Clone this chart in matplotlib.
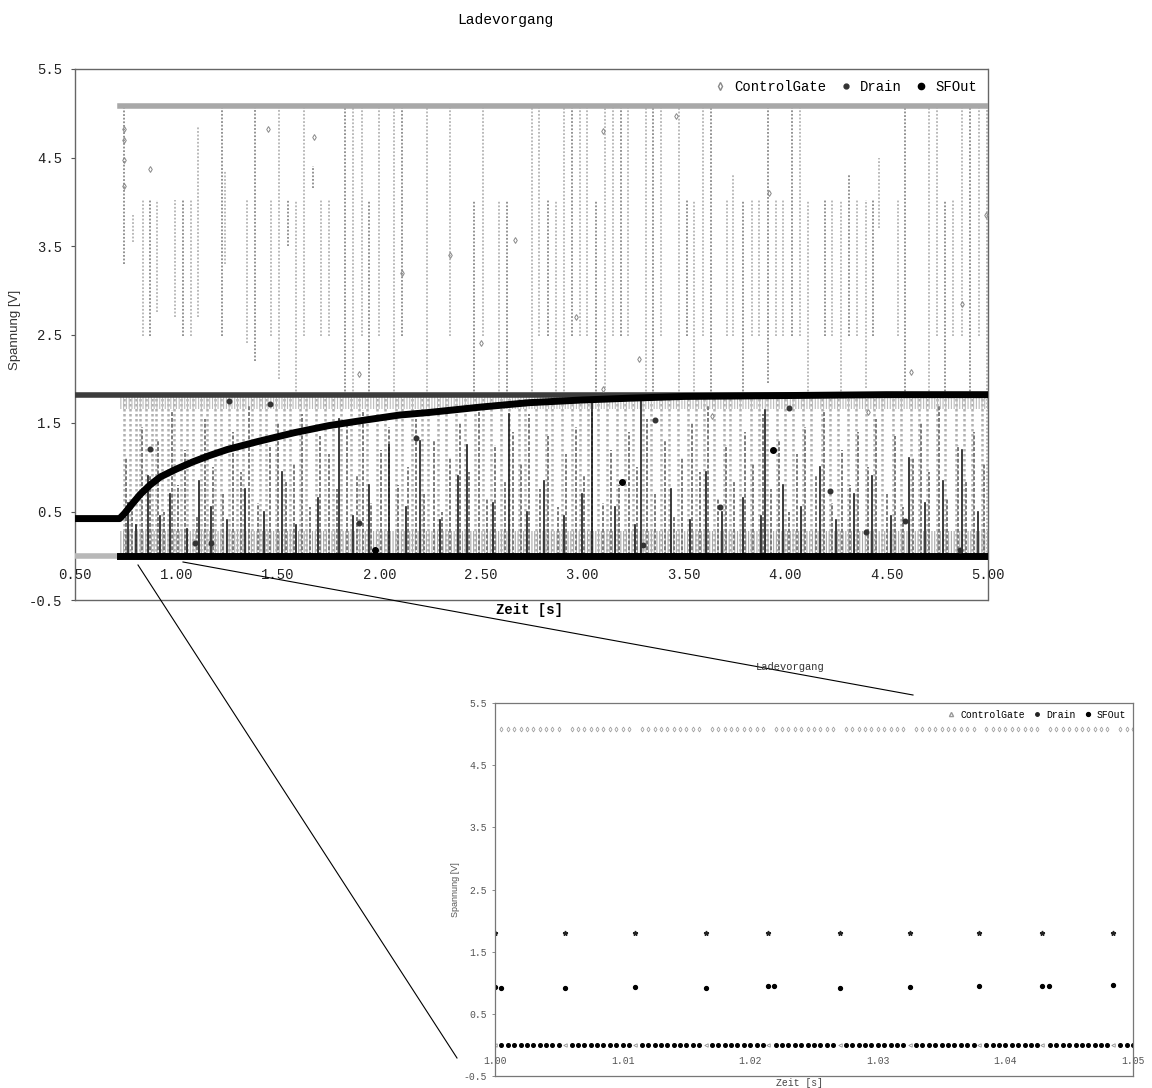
import matplotlib
matplotlib.use("Agg")
import matplotlib.pyplot as plt
from matplotlib.lines import Line2D

# ---------------- data (main view, seconds / volts) ----------------
x_ticks = [0.50, 1.00, 1.50, 2.00, 2.50, 3.00, 3.50, 4.00, 4.50, 5.00]
x_tick_labels = ["0.50", "1.00", "1.50", "2.00", "2.50", "3.00", "3.50", "4.00", "4.50", "5.00"]
y_ticks = [5.5, 4.5, 3.5, 2.5, 1.5, 0.5, -0.5]
y_tick_labels = ["5.5", "4.5", "3.5", "2.5", "1.5", "0.5", "-0.5"]

# SFOut charging curve
sf_t = [0.50, 0.72, 0.745, 0.78, 0.82, 0.87, 0.92, 1.00, 1.08, 1.16, 1.25, 1.40, 1.58, 1.75,
        1.92, 2.10, 2.25, 2.50, 2.74, 3.00, 3.23, 3.50, 4.00, 4.50, 5.00]
sf_v = [0.42, 0.42, 0.48, 0.58, 0.69, 0.80, 0.89, 0.98, 1.06, 1.13, 1.20, 1.29, 1.39, 1.47,
        1.53, 1.59, 1.62, 1.68, 1.73, 1.76, 1.78, 1.80, 1.81, 1.82, 1.82]

# steady levels
cg_high = 5.08          # ControlGate high level
mid_level = 1.82        # Drain / SFOut high level
t_start = 0.72          # switching begins
t_begin, t_end = 0.50, 5.00

# ControlGate transitions in upper region: time, low, high
cg_up_t = [0.741, 0.786, 0.835, 0.870, 0.904, 0.993, 1.032, 1.072, 1.106, 1.224, 1.239, 1.348, 1.387,
           1.466, 1.505, 1.550, 1.589, 1.629, 1.673, 1.712, 1.752, 1.831, 1.870, 1.914, 1.949, 1.998,
           2.072, 2.112, 2.235, 2.348, 2.467, 2.511, 2.590, 2.629, 2.752, 2.787, 2.831, 2.871, 2.910,
           2.949, 2.989, 3.023, 3.068, 3.112, 3.152, 3.191, 3.225, 3.314, 3.349, 3.388, 3.477, 3.516,
           3.551, 3.595, 3.634, 3.713, 3.743, 3.792, 3.837, 3.871, 3.915, 3.955, 3.989, 4.034, 4.073,
           4.113, 4.196, 4.231, 4.275, 4.315, 4.354, 4.398, 4.433, 4.462, 4.556, 4.591, 4.709, 4.748,
           4.788, 4.827, 4.872, 4.911, 4.955, 4.995]
cg_up_lo = [3.30, 3.55, 2.48, 2.48, 2.75, 2.70, 2.48, 2.48, 2.70, 2.48, 3.30, 2.40, 2.20,
            2.48, 2.00, 3.50, 1.82, 2.48, 4.15, 2.48, 2.48, 1.82, 1.82, 2.48, 1.82, 2.48,
            1.82, 2.48, 1.82, 2.48, 1.82, 2.48, 1.82, 1.82, 1.82, 2.48, 2.48, 1.82, 1.82,
            2.48, 2.48, 2.48, 1.82, 1.90, 2.48, 2.48, 2.48, 1.82, 1.82, 2.48, 1.82, 2.48,
            1.82, 2.48, 1.82, 2.48, 2.48, 1.82, 2.48, 2.48, 1.95, 2.48, 2.48, 2.48, 2.48,
            1.82, 2.48, 2.48, 1.82, 2.48, 2.48, 1.90, 2.48, 3.70, 2.48, 1.82, 1.82, 2.48,
            1.82, 2.48, 2.48, 1.82, 2.48, 0.00]
cg_up_hi = [5.08, 3.85, 4.02, 4.02, 4.02, 4.02, 4.02, 4.02, 4.85, 5.08, 4.35, 4.02, 5.08,
            4.02, 5.08, 4.02, 4.02, 5.08, 4.40, 4.02, 4.02, 5.08, 5.08, 5.08, 4.02, 5.08,
            5.08, 5.08, 5.08, 5.08, 4.02, 5.08, 4.02, 4.02, 5.08, 5.08, 4.02, 4.02, 5.08,
            5.08, 5.08, 5.08, 4.02, 5.08, 5.08, 5.08, 5.08, 5.08, 5.08, 5.08, 5.08, 4.02,
            4.02, 5.08, 5.08, 4.02, 4.30, 4.02, 4.02, 4.02, 5.08, 4.02, 4.02, 5.08, 5.08,
            4.02, 4.02, 4.02, 4.02, 4.30, 4.02, 4.02, 4.02, 4.50, 4.02, 5.08, 5.08, 5.08,
            4.02, 4.02, 5.08, 5.08, 5.08, 5.08]

# ControlGate transitions in lower region (0 -> mid level)
cg_low_t = [0.74, 0.77, 0.80, 0.82, 0.85, 0.88, 0.90, 0.93, 0.96, 0.99, 1.02, 1.05, 1.08, 1.12, 1.15,
            1.19, 1.22, 1.26, 1.30, 1.33, 1.37, 1.41, 1.44, 1.49, 1.53, 1.56, 1.61, 1.64, 1.69, 1.73,
            1.77, 1.81, 1.86, 1.90, 1.94, 1.99, 2.03, 2.08, 2.11, 2.16, 2.21, 2.24, 2.29, 2.33, 2.38,
            2.42, 2.47, 2.51, 2.55, 2.60, 2.64, 2.69, 2.72, 2.77, 2.82, 2.85, 2.90, 2.95, 2.99, 3.03,
            3.08, 3.12, 3.17, 3.21, 3.25, 3.30, 3.34, 3.39, 3.43, 3.47, 3.52, 3.56, 3.60, 3.65, 3.70,
            3.73, 3.78, 3.83, 3.87, 3.91, 3.96, 4.00, 4.04, 4.09, 4.13, 4.18, 4.22, 4.26, 4.31, 4.35,
            4.40, 4.44, 4.48, 4.53, 4.57, 4.62, 4.66, 4.70, 4.75, 4.79, 4.84, 4.88, 4.92, 4.97]

# Drain pulses (0 -> height)
drain_t = [0.75, 0.78, 0.83, 0.87, 0.91, 0.94, 0.98, 1.01, 1.04, 1.10, 1.14, 1.18, 1.23, 1.28, 1.32,
           1.36, 1.40, 1.46, 1.50, 1.54, 1.58, 1.62, 1.66, 1.71, 1.75, 1.79, 1.84, 1.89, 1.92, 1.96,
           2.01, 2.05, 2.09, 2.14, 2.18, 2.22, 2.27, 2.31, 2.35, 2.40, 2.44, 2.49, 2.53, 2.57, 2.62,
           2.66, 2.70, 2.74, 2.79, 2.83, 2.88, 2.92, 2.97, 3.01, 3.05, 3.10, 3.14, 3.18, 3.23, 3.27,
           3.32, 3.36, 3.41, 3.45, 3.49, 3.54, 3.58, 3.62, 3.67, 3.71, 3.75, 3.80, 3.84, 3.89, 3.93,
           3.97, 4.02, 4.06, 4.10, 4.15, 4.19, 4.23, 4.28, 4.32, 4.36, 4.41, 4.45, 4.50, 4.54, 4.58,
           4.63, 4.67, 4.71, 4.76, 4.80, 4.85, 4.89, 4.93, 4.98]
drain_h = [1.10, 0.65, 1.45, 0.90, 1.30, 0.50, 1.65, 0.80, 1.20, 0.45, 1.55, 1.00, 0.70, 1.40, 0.95,
           1.70, 0.60, 1.25, 1.50, 0.85, 1.05, 1.60, 0.55, 1.35, 1.15, 0.75, 1.50, 0.90, 1.65, 0.60,
           1.20, 1.45, 0.80, 1.00, 1.55, 0.70, 1.30, 0.50, 1.10, 1.50, 0.95, 1.70, 0.65, 1.25, 0.85,
           1.40, 1.05, 1.60, 0.75, 1.35, 0.55, 1.15, 1.45, 0.90, 1.65, 0.60, 1.20, 0.80, 1.40, 1.00,
           1.55, 0.70, 1.30, 0.45, 1.10, 1.50, 0.95, 1.70, 0.65, 1.25, 0.85, 1.40, 1.05, 1.60, 0.75,
           1.30, 0.50, 1.15, 1.45, 0.90, 1.65, 0.60, 1.20, 0.80, 1.40, 1.00, 1.55, 0.70, 1.35, 0.55,
           1.10, 1.50, 0.95, 1.70, 0.65, 1.25, 0.85, 1.40, 1.05]

# SFOut spikes (0 -> height)
sfs_t = [0.76, 0.80, 0.86, 0.92, 0.97, 1.05, 1.11, 1.17, 1.25, 1.34, 1.43, 1.52, 1.59, 1.70, 1.80,
         1.87, 1.95, 2.05, 2.13, 2.20, 2.30, 2.39, 2.43, 2.56, 2.64, 2.73, 2.81, 2.91, 3.00, 3.05,
         3.16, 3.26, 3.29, 3.44, 3.53, 3.61, 3.69, 3.79, 3.88, 3.90, 3.99, 4.08, 4.17, 4.25, 4.34,
         4.43, 4.52, 4.61, 4.69, 4.78, 4.87, 4.95]
sfs_h = [0.60, 0.35, 0.90, 0.45, 0.70, 0.30, 0.85, 0.55, 0.40, 0.75, 0.50, 0.95, 0.35, 0.65, 1.55,
         0.45, 0.80, 1.25, 0.55, 1.30, 0.40, 0.90, 1.25, 0.60, 1.60, 0.50, 0.85, 0.45, 0.70, 1.82,
         0.55, 0.35, 1.80, 0.75, 0.40, 0.95, 0.50, 0.65, 0.45, 1.65, 0.80, 0.55, 1.00, 0.40, 0.70,
         0.90, 0.45, 1.10, 0.60, 0.85, 1.20, 0.50]

# isolated samples
cg_pts_t = [0.74, 0.74, 0.74, 0.74, 0.87, 1.45, 1.68, 2.11, 2.35, 2.67, 1.90, 2.50, 2.97, 3.10,
            3.28, 3.46, 3.92, 4.62, 4.87, 4.99, 3.10, 3.64, 4.41]
cg_pts_v = [4.82, 4.70, 4.47, 4.18, 4.37, 4.82, 4.73, 3.20, 3.40, 3.57, 2.05, 2.40, 2.70, 4.80,
            2.22, 4.97, 4.10, 2.08, 2.85, 3.85, 1.88, 1.58, 1.62]
drain_pts_t = [0.87, 1.26, 1.46, 2.18, 3.36, 3.68, 4.22, 4.40, 4.59, 1.09, 1.17, 3.30, 4.86, 4.02, 1.90]
drain_pts_v = [1.21, 1.75, 1.71, 1.33, 1.53, 0.55, 0.73, 0.27, 0.39, 0.14, 0.14, 0.12, 0.07, 1.67, 0.37]
sf_pts_t = [3.195, 3.94, 1.98]
sf_pts_v = [0.83, 1.20, 0.07]

# ---------------- data (zoomed view 1.00 .. 1.05 s) ----------------
z_x_ticks = [1.00, 1.01, 1.02, 1.03, 1.04, 1.05]
z_x_labels = ["1.00", "1.01", "1.02", "1.03", "1.04", "1.05"]
z_samples = [1.0000, 1.0005, 1.0010, 1.0015, 1.0020, 1.0025, 1.0030, 1.0035, 1.0040, 1.0045,
             1.0050, 1.0055, 1.0060, 1.0065, 1.0070, 1.0075, 1.0080, 1.0085, 1.0090, 1.0095,
             1.0100, 1.0105, 1.0110, 1.0115, 1.0120, 1.0125, 1.0130, 1.0135, 1.0140, 1.0145,
             1.0150, 1.0155, 1.0160, 1.0165, 1.0170, 1.0175, 1.0180, 1.0185, 1.0190, 1.0195,
             1.0200, 1.0205, 1.0210, 1.0214, 1.0220, 1.0225, 1.0230, 1.0235, 1.0240, 1.0245,
             1.0250, 1.0255, 1.0260, 1.0265, 1.0270, 1.0275, 1.0280, 1.0285, 1.0290, 1.0295,
             1.0300, 1.0305, 1.0310, 1.0315, 1.0320, 1.0325, 1.0330, 1.0335, 1.0340, 1.0345,
             1.0350, 1.0355, 1.0360, 1.0365, 1.0370, 1.0375, 1.0379, 1.0385, 1.0390, 1.0395,
             1.0400, 1.0405, 1.0410, 1.0415, 1.0420, 1.0425, 1.0429, 1.0435, 1.0440, 1.0445,
             1.0450, 1.0455, 1.0460, 1.0465, 1.0470, 1.0475, 1.0480, 1.0484, 1.0490, 1.0495, 1.0500]
z_pulses = [1.0000, 1.0055, 1.0110, 1.0165, 1.0214, 1.0270, 1.0325, 1.0379, 1.0429, 1.0484]
z_drain_v = 1.80
z_sf_t = [1.0000, 1.0005, 1.0055, 1.0110, 1.0165, 1.0214, 1.0219, 1.0270, 1.0325, 1.0379,
          1.0429, 1.0434, 1.0484]
z_sf_v = [0.93, 0.92, 0.92, 0.93, 0.92, 0.94, 0.94, 0.92, 0.93, 0.95, 0.95, 0.95, 0.96]

# ---------------- drawing ----------------
W, H = 1152, 1088
MONO = "Liberation Mono"
SANS = "Liberation Sans"
plt.rcParams["hatch.linewidth"] = 0.8
fig = plt.figure(figsize=(W / 100, H / 100), dpi=100)


def rect(l, t, r, b):
    return [l / W, 1 - b / H, (r - l) / W, (b - t) / H]


ax = fig.add_axes(rect(75, 69, 988, 600))
ax.set_xlim(0.5, 5.0)
ax.set_ylim(-0.5, 5.5)

dot = (0, (1, 1))
# upper ControlGate transitions
for i, (t, lo, hi) in enumerate(zip(cg_up_t, cg_up_lo, cg_up_hi)):
    c = "#8a8a8a" if i % 3 == 0 else "#b4b4b4"
    ax.plot([t, t], [lo, hi], color=c, lw=1.3, ls=dot, zorder=2)
# lower region
for t in cg_low_t:
    ax.plot([t, t], [0, mid_level], color="#b0b0b0", lw=1.8, ls=dot, zorder=2)
for t, h in zip(drain_t, drain_h):
    ax.plot([t, t], [0, h], color="#7a7a7a", lw=1.4, ls=(0, (2, 1)), zorder=3)
for t, h in zip(sfs_t, sfs_h):
    ax.plot([t, t], [0, h], color="#1a1a1a", lw=1.2, zorder=4)
# fences of dense short transitions
ax.fill_between([t_start, t_end], 0, 0.28, facecolor="none", edgecolor="#aaaaaa",
                hatch="||||||", lw=0, zorder=2)
ax.fill_between([t_start, t_end], 1.66, mid_level, facecolor="none", edgecolor="#bbbbbb",
                hatch="||||||", lw=0, zorder=2)

# steady levels
ax.plot([t_start, t_end], [cg_high, cg_high], color="#a8a8a8", lw=4, zorder=5)
ax.plot([t_begin, t_end], [mid_level, mid_level], color="#3c3c3c", lw=4, zorder=5)
ax.plot([t_begin, t_start], [0, 0], color="#b8b8b8", lw=4, zorder=5)
ax.plot([t_start, t_end], [0, 0], color="black", lw=5, zorder=6)
ax.plot(sf_t, sf_v, color="black", lw=5, solid_capstyle="round", zorder=7)

ax.plot(cg_pts_t, cg_pts_v, ls="none", marker="d", ms=3, mfc="none", mec="#888888", mew=0.7, zorder=6)
ax.plot(drain_pts_t, drain_pts_v, ls="none", marker="o", ms=3.3, color="#333333", zorder=8)
ax.plot(sf_pts_t, sf_pts_v, ls="none", marker="o", ms=4, color="black", zorder=8)

for s in ax.spines.values():
    s.set_linestyle(dot)
    s.set_color("#666666")
    s.set_linewidth(1)
ax.set_yticks(y_ticks)
ax.set_yticklabels(y_tick_labels, family=MONO, fontsize=10, color="#222222")
ax.tick_params(axis="y", length=3, width=0.8, color="#555555", pad=6)
ax.set_xticks([])
for t, lab in zip(x_ticks, x_tick_labels):
    ax.text(t, -0.22, lab, ha="center", va="center", family=MONO, fontsize=10, color="#222222", zorder=9)

handles = [Line2D([], [], ls="none", marker="d", ms=4, mfc="none", mec="#888888"),
           Line2D([], [], ls="none", marker="o", ms=3.5, color="#333333"),
           Line2D([], [], ls="none", marker="o", ms=4.5, color="black")]
leg = ax.legend(handles, ["ControlGate", "Drain", "SFOut"], loc="upper right", ncol=3,
                frameon=False, prop={"family": MONO, "size": 10}, handlelength=0.8,
                handletextpad=0.6, columnspacing=1.0, borderaxespad=0.4)
leg.set_zorder(20)

fig.text(505 / W, 1 - 20 / H, "Ladevorgang", ha="center", va="center", family=MONO, fontsize=10.5)
fig.text(15 / W, 1 - 330 / H, "Spannung [V]", ha="center", va="center", rotation=90,
         family=SANS, fontsize=9.5, color="#333333")
fig.text(530 / W, 1 - 610 / H, "Zeit [s]", ha="center", va="center", family=MONO,
         fontsize=10, fontweight="bold")

# ---------------- zoomed view ----------------
axi = fig.add_axes(rect(495, 703, 1133, 1076))
axi.set_xlim(1.0, 1.05)
axi.set_ylim(-0.5, 5.5)
pulse_set = set(z_pulses)
cg_top_t = [t for t in z_samples if t not in pulse_set]
axi.plot(cg_top_t, [cg_high] * len(cg_top_t), ls="none", marker="d", ms=2.5, mfc="none",
         mec="#a0a0a0", mew=0.6)
axi.plot(cg_top_t, [0] * len(cg_top_t), ls="none", marker="o", ms=2.6, color="black")
axi.plot(z_pulses, [0] * len(z_pulses), ls="none", marker="<", ms=2.5, mfc="none", mec="#909090", mew=0.6)
axi.plot(z_pulses, [z_drain_v] * len(z_pulses), ls="none", marker="*", ms=3.5, color="#222222")
axi.plot(z_sf_t, z_sf_v, ls="none", marker="o", ms=2.8, color="black")
for s in axi.spines.values():
    s.set_linestyle(dot)
    s.set_color("#777777")
    s.set_linewidth(0.9)
axi.set_yticks(y_ticks)
axi.set_yticklabels(y_tick_labels, family=MONO, fontsize=7, color="#555555")
axi.tick_params(axis="y", length=2, width=0.6, color="#777777", pad=4)
axi.set_xticks([])
for t, lab in zip(z_x_ticks, z_x_labels):
    axi.text(t, -0.26, lab, ha="center", va="center", family=MONO, fontsize=7, color="#555555")
hz = [Line2D([], [], ls="none", marker="^", ms=3, mfc="none", mec="#999999"),
      Line2D([], [], ls="none", marker="o", ms=2.5, color="#222222"),
      Line2D([], [], ls="none", marker="o", ms=2.8, color="black")]
axi.legend(hz, ["ControlGate", "Drain", "SFOut"], loc="upper right", ncol=3, frameon=False,
           prop={"family": MONO, "size": 7}, handlelength=0.8, handletextpad=0.5,
           columnspacing=0.9, borderaxespad=0.3)
fig.text(790 / W, 1 - 667 / H, "Ladevorgang", ha="center", va="center", family=MONO,
         fontsize=7.5, color="#333333")
fig.text(456 / W, 1 - 890 / H, "Spannung [V]", ha="center", va="center", rotation=90,
         family=SANS, fontsize=6.5, color="#555555")
fig.text(800 / W, 1 - 1083 / H, "Zeit [s]", ha="center", va="center", family=MONO,
         fontsize=7, color="#444444")

# connector lines from main view to zoomed view
fig.add_artist(Line2D([138 / W, 457 / W], [1 - 565 / H, 1 - 1058 / H], color="black", lw=0.8,
                      transform=fig.transFigure))
fig.add_artist(Line2D([183 / W, 913 / W], [1 - 562 / H, 1 - 695 / H], color="black", lw=0.8,
                      transform=fig.transFigure))

fig.savefig("out.png", dpi=100)
